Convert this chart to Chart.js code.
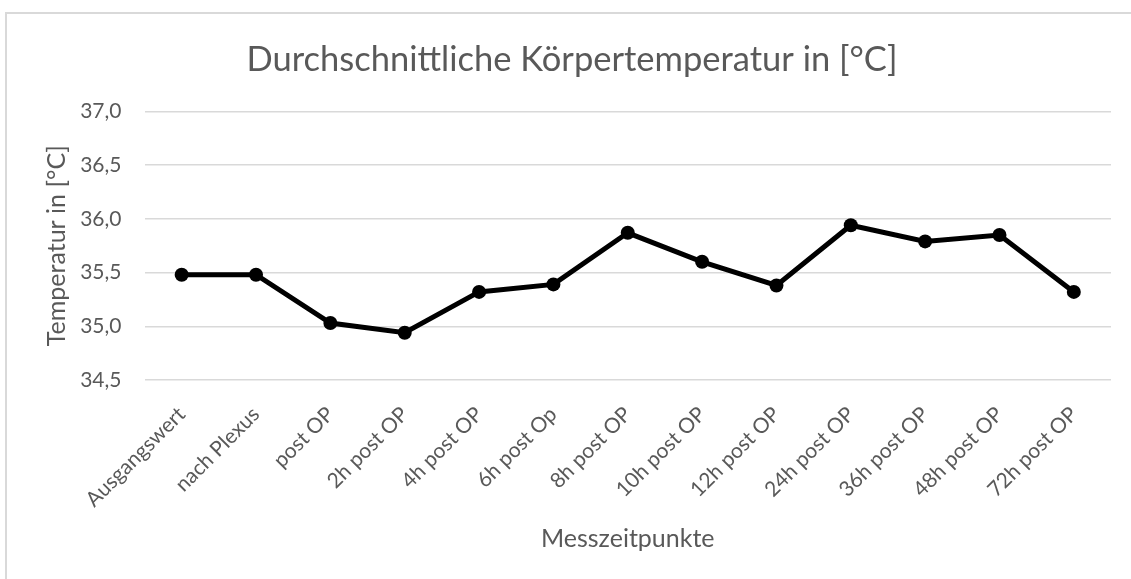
<!DOCTYPE html>
<html>
<head>
<meta charset="utf-8">
<script src="https://cdn.jsdelivr.net/npm/chart.js@4.4.1/dist/chart.umd.min.js"></script>
<style>
  html, body { margin: 0; padding: 0; background: #ffffff; }
  #wrap { position: relative; width: 1131px; height: 579px; overflow: hidden; }
  #frame { position: absolute; left: 5px; top: 12px; width: 1200px; height: 700px;
           border-top: 2px solid #d9d9d9; border-left: 2px solid #d9d9d9; box-sizing: border-box; }
  canvas { position: absolute; left: 0; top: 0; }
</style>
</head>
<body>
<div id="wrap">
  <div id="frame"></div>
  <canvas id="c" width="1131" height="579"></canvas>
</div>
<script>
const categories = ["Ausgangswert", "nach Plexus", "post OP", "2h post OP", "4h post OP", "6h post Op",
  "8h post OP", "10h post OP", "12h post OP", "24h post OP", "36h post OP", "48h post OP", "72h post OP"];
const temperatures = [35.48, 35.48, 35.03, 34.94, 35.32, 35.39, 35.87, 35.60, 35.38, 35.94, 35.79, 35.85, 35.32];
const yTicks = [34.5, 35.0, 35.5, 36.0, 36.5, 37.0];
const chartTitle = "Durchschnittliche Körpertemperatur in [°C]";
const xTitle = "Messzeitpunkte";
const yTitle = "Temperatur in [°C]";

const FONT = "Lato, 'Open Sans', sans-serif";
const TXT = "#595959";
const GRID = "#d9d9d9";

new Chart(document.getElementById('c'), {
  type: 'line',
  data: {
    labels: categories,
    datasets: [{
      data: temperatures,
      borderColor: '#000000',
      backgroundColor: '#000000',
      borderWidth: 5,
      pointRadius: 7,
      pointHoverRadius: 7,
      pointBackgroundColor: '#000000',
      pointBorderColor: '#000000',
      pointBorderWidth: 0,
      tension: 0,
      fill: false
    }]
  },
  options: {
    responsive: false,
    animation: false,
    devicePixelRatio: 1,
    layout: { padding: { top: 0, right: 20, bottom: 0, left: 33 } },
    plugins: {
      legend: { display: false },
      tooltip: { enabled: false },
      title: {
        display: true,
        text: chartTitle,
        color: TXT,
        font: { family: FONT, size: 34.5, weight: 'normal' },
        padding: { top: 39, bottom: 31 }
      }
    },
    scales: {
      x: {
        offset: true,
        grid: { display: false, drawTicks: false },
        border: { display: false },
        ticks: {
          color: TXT,
          font: { family: FONT, size: 21 },
          maxRotation: 45,
          minRotation: 45,
          padding: 22,
          autoSkip: false
        },
        title: {
          display: true,
          text: xTitle,
          color: TXT,
          font: { family: FONT, size: 25 },
          padding: { top: 0, bottom: 25 }
        },
        afterFit: (s) => { s.height = 199; }
      },
      y: {
        min: yTicks[0],
        max: yTicks[yTicks.length - 1],
        afterBuildTicks: (s) => { s.ticks = yTicks.map(v => ({ value: v })); },
        grid: { color: GRID, lineWidth: 1.5, drawTicks: false },
        border: { display: false },
        ticks: {
          color: TXT,
          font: { family: FONT, size: 21 },
          padding: 23,
          callback: (v) => Number(v).toFixed(1).replace('.', ',')
        },
        title: {
          display: true,
          text: yTitle,
          color: TXT,
          font: { family: FONT, size: 25 },
          padding: { top: 9, bottom: 0 }
        },
        afterFit: (s) => { s.width = 111.5; }
      }
    }
  }
});
</script>
</body>
</html>
